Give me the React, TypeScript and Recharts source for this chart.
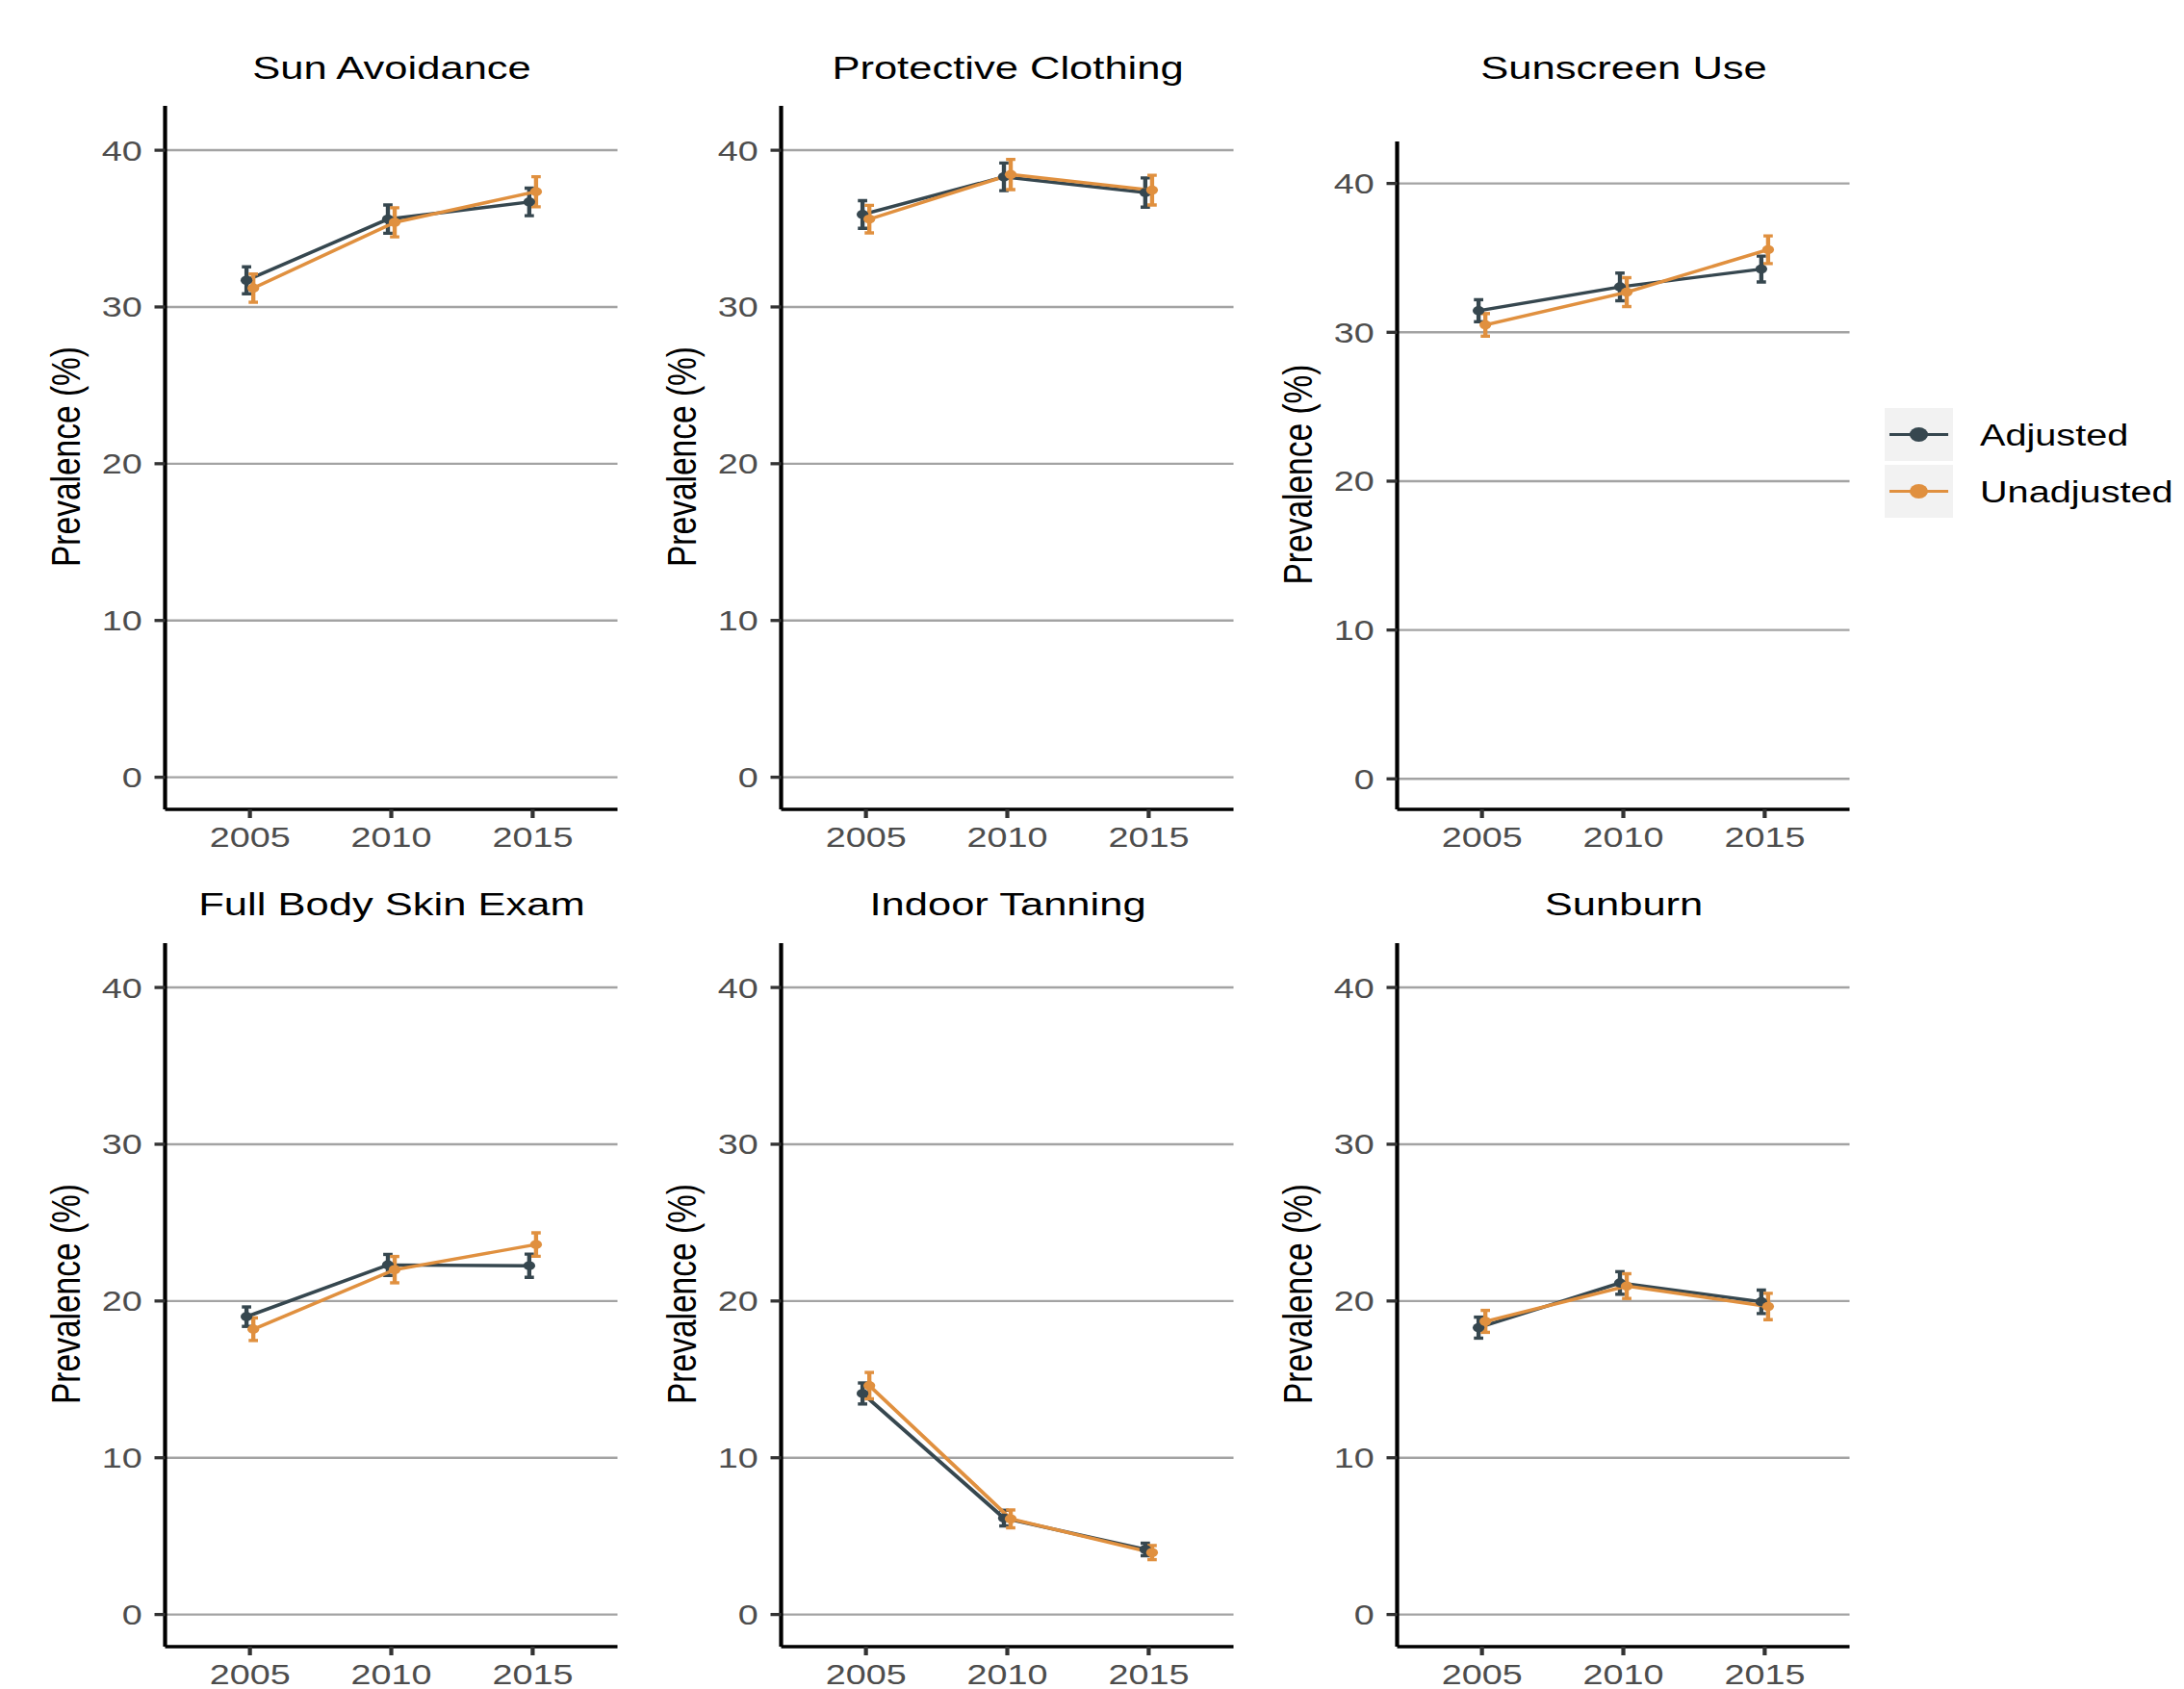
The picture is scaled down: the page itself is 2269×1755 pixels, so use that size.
// Six-panel prevalence trends (adjusted vs unadjusted) drawn with Recharts
// The reference is horizontally stretched, so the whole figure is laid out
// narrower and widened with a CSS scaleX.

import React from "react";
import {
  LineChart,
  Line,
  XAxis,
  YAxis,
  ReferenceLine,
  ErrorBar,
} from "recharts";

const years = [2005, 2010, 2015];
const yTicks = [0, 10, 20, 30, 40];
const seriesNames = ["Adjusted", "Unadjusted"];

const panelTitles = [
  "Sun Avoidance",
  "Protective Clothing",
  "Sunscreen Use",
  "Full Body Skin Exam",
  "Indoor Tanning",
  "Sunburn",
];

// one row per panel, one value per year
const adjusted = [
  [31.7, 35.6, 36.7],
  [35.9, 38.3, 37.3],
  [31.45, 33.05, 34.25],
  [19.0, 22.3, 22.25],
  [14.1, 6.15, 4.15],
  [18.3, 21.15, 19.95],
];
const adjustedCI = [
  [0.86, 0.9, 0.88],
  [0.88, 0.88, 0.93],
  [0.74, 0.93, 0.87],
  [0.62, 0.67, 0.74],
  [0.67, 0.5, 0.4],
  [0.67, 0.72, 0.75],
];
const unadjusted = [
  [31.2, 35.4, 37.35],
  [35.6, 38.45, 37.45],
  [30.5, 32.7, 35.55],
  [18.2, 22.0, 23.6],
  [14.6, 6.1, 3.95],
  [18.7, 20.95, 19.65],
];
const unadjustedCI = [
  [0.9, 0.93, 0.96],
  [0.88, 0.96, 0.95],
  [0.76, 0.97, 0.93],
  [0.72, 0.84, 0.75],
  [0.84, 0.57, 0.45],
  [0.7, 0.79, 0.84],
];

const S = 1.28;
const W0 = 1772;
const FONT = '"Liberation Sans", Arial, Helvetica, sans-serif';
const ADJ_COLOR = "#36474f";
const UNADJ_COLOR = "#e0903f";
const GRID = "#a3a3a3";

const COL_LEFT = [134.4, 634.4, 1134.4];
const PLOT_W = 367.2;
const ROWS = [
  { top: 108, bottom: 841, titleTop: 53 },
  { top: 978, bottom: 1711, titleTop: 921.6 },
];
const YW = 162;
const XH = 44;
const CLIP = 2; // trims the stray edge line at the panel top
const X_DOMAIN = [2002, 2018];
const DODGE = 0.12;
const Y_DOMAIN = [-2.05, 42.95];

function Panel({ index }: { index: number }) {
  const col = index % 3;
  const row = Math.floor(index / 3);
  const top = index === 2 ? 145 : ROWS[row].top;
  const plotH = ROWS[row].bottom - top;
  const left = COL_LEFT[col];

  const data = years.map((year, i) => ({
    year,
    adj: adjusted[index][i],
    adjErr: adjustedCI[index][i],
    unadj: unadjusted[index][i],
    unadjErr: unadjustedCI[index][i],
  }));

  return (
    <>
      <div
        style={{
          position: "absolute",
          left: left + PLOT_W / 2 - 300,
          top: ROWS[row].titleTop,
          width: 600,
          textAlign: "center",
          fontSize: 34,
          lineHeight: "34px",
          color: "#000",
          fontFamily: FONT,
          whiteSpace: "nowrap",
        }}
      >
        {panelTitles[index]}
      </div>
      <div
        style={{
          position: "absolute",
          left: left - YW,
          top: top + CLIP,
          width: YW + PLOT_W,
          height: plotH + XH - CLIP,
          overflow: "hidden",
        }}
      >
        <div style={{ position: "absolute", left: 0, top: -CLIP }}>
          <LineChart
            width={YW + PLOT_W}
            height={plotH + XH}
            data={data}
            margin={{ top: 0, right: 0, bottom: 0, left: 0 }}
          >
            <XAxis
              xAxisId="adj"
              type="number"
              dataKey="year"
              orientation="bottom"
              domain={[X_DOMAIN[0] + DODGE, X_DOMAIN[1] + DODGE]}
              allowDataOverflow
              height={0}
              axisLine={false}
              tickLine={false}
              tick={false}
              hide
            />
            <XAxis
              xAxisId="unadj"
              type="number"
              dataKey="year"
              orientation="bottom"
              domain={[X_DOMAIN[0] - DODGE, X_DOMAIN[1] - DODGE]}
              allowDataOverflow
              height={0}
              axisLine={false}
              tickLine={false}
              tick={false}
              hide
            />
            <XAxis
              xAxisId="main"
              type="number"
              dataKey="year"
              domain={X_DOMAIN}
              ticks={years}
              interval={0}
              allowDataOverflow
              height={XH}
              tickSize={9}
              tickMargin={9}
              axisLine={{ stroke: "#000", strokeWidth: 3.3 }}
              tickLine={{ stroke: "#333", strokeWidth: 3.3 }}
              tick={{ fill: "#4d4d4d", fontSize: 29.5, fontFamily: FONT }}
            />
            <YAxis
              type="number"
              domain={Y_DOMAIN}
              ticks={yTicks}
              interval={0}
              allowDataOverflow
              width={YW}
              tickSize={8.6}
              tickMargin={10}
              axisLine={{ stroke: "#000", strokeWidth: 3.3 }}
              tickLine={{ stroke: "#333", strokeWidth: 3.3 }}
              tick={{ fill: "#4d4d4d", fontSize: 29.5, fontFamily: FONT }}
              label={{
                value: "Prevalence (%)",
                angle: -90,
                position: "center",
                fontSize: 33.5,
                fill: "#000",
                fontFamily: FONT,
              }}
            />
            {yTicks.map((t) => (
              <ReferenceLine
                key={t}
                xAxisId="main"
                y={t}
                stroke={GRID}
                strokeWidth={2.4}
              />
            ))}
            <Line
              xAxisId="adj"
              type="linear"
              dataKey="adj"
              name={seriesNames[0]}
              stroke={ADJ_COLOR}
              strokeWidth={3.4}
              dot={{ r: 4.8, fill: ADJ_COLOR, stroke: ADJ_COLOR, strokeWidth: 0 }}
              isAnimationActive={false}
            >
              <ErrorBar
                dataKey="adjErr"
                direction="y"
                width={3.8}
                stroke={ADJ_COLOR}
                strokeWidth={3.4}
                isAnimationActive={false}
              />
            </Line>
            <Line
              xAxisId="unadj"
              type="linear"
              dataKey="unadj"
              name={seriesNames[1]}
              stroke={UNADJ_COLOR}
              strokeWidth={3.4}
              dot={{ r: 4.8, fill: UNADJ_COLOR, stroke: UNADJ_COLOR, strokeWidth: 0 }}
              isAnimationActive={false}
            >
              <ErrorBar
                dataKey="unadjErr"
                direction="y"
                width={3.8}
                stroke={UNADJ_COLOR}
                strokeWidth={3.4}
                isAnimationActive={false}
              />
            </Line>
          </LineChart>
        </div>
      </div>
    </>
  );
}

function LegendBox() {
  const items = [
    { name: seriesNames[0], color: ADJ_COLOR, y: 424 },
    { name: seriesNames[1], color: UNADJ_COLOR, y: 483 },
  ];
  return (
    <svg
      width={W0}
      height={1755}
      style={{ position: "absolute", left: 0, top: 0, pointerEvents: "none" }}
    >
      {items.map((it) => (
        <g key={it.name}>
          <rect x={1529.7} y={it.y} width={55.5} height={55} fill="#f2f2f2" />
          <line
            x1={1533.6}
            x2={1581.3}
            y1={it.y + 27.5}
            y2={it.y + 27.5}
            stroke={it.color}
            strokeWidth={3.2}
          />
          <circle cx={1557.4} cy={it.y + 27.5} r={7.5} fill={it.color} />
          <text
            x={1607}
            y={it.y + 27.5 + 11.3}
            fontSize={31}
            fontFamily={FONT}
            fill="#000"
          >
            {it.name}
          </text>
        </g>
      ))}
    </svg>
  );
}

export default function App() {
  return (
    <div
      style={{
        position: "absolute",
        left: 0,
        top: 0,
        width: 2269,
        height: 1755,
        overflow: "hidden",
        background: "#fff",
      }}
    >
      <div
        style={{
          position: "relative",
          width: W0,
          height: 1755,
          transform: `scaleX(${S})`,
          transformOrigin: "0 0",
          fontFamily: FONT,
        }}
      >
        {panelTitles.map((t, i) => (
          <Panel key={t} index={i} />
        ))}
        <LegendBox />
      </div>
    </div>
  );
}
